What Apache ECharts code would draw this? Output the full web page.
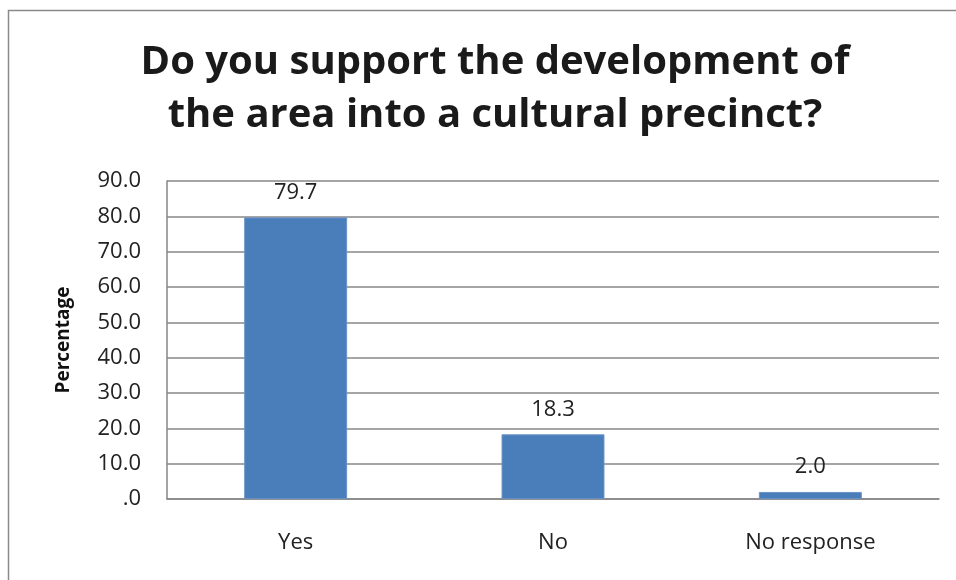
<!DOCTYPE html>
<html>
<head>
<meta charset="utf-8">
<script src="https://cdn.jsdelivr.net/npm/echarts@6/dist/echarts.min.js"></script>
<style>
  html, body { margin: 0; padding: 0; background: #fff; }
  #chart { width: 956px; height: 580px; }
</style>
</head>
<body>
<div id="chart"></div>
<script>
// Survey responses (percent of respondents)
const categories = ['Yes', 'No', 'No response'];
const percentages = [79.7, 18.3, 2.0];
const titleLines = ['Do you support the development of', 'the area into a cultural precinct?'];
const yAxisTitle = 'Percentage';

const FONT = '"Open Sans", "Noto Sans", sans-serif';
const GRID_COLOR = '#878787';

const chart = echarts.init(document.getElementById('chart'), null, { renderer: 'canvas' });

chart.setOption({
  animation: false,
  backgroundColor: '#ffffff',
  graphic: [{
    type: 'rect',
    shape: { x: 8.5, y: 10.5, width: 1000, height: 700 },
    style: { fill: 'none', stroke: '#8a8a8a', lineWidth: 1.5 },
    silent: true
  }],
  title: {
    text: titleLines.join('\n'),
    left: 490,
    textAlign: 'center',
    top: 31,
    textStyle: {
      fontFamily: FONT,
      fontWeight: 'bold',
      fontSize: 40,
      lineHeight: 53,
      color: '#1a1a1a'
    }
  },
  grid: { left: 167, right: 17, top: 181, bottom: 81 },
  xAxis: {
    type: 'category',
    data: categories,
    axisLine: { show: true, lineStyle: { color: GRID_COLOR, width: 1.5 } },
    axisTick: { show: false },
    axisLabel: { fontFamily: FONT, fontSize: 22, color: '#222', margin: 33 }
  },
  yAxis: {
    type: 'value',
    min: 0,
    max: 90,
    interval: 10,
    name: yAxisTitle,
    nameLocation: 'middle',
    nameGap: 94,
    nameTextStyle: { fontFamily: FONT, fontWeight: 'bold', fontSize: 19, color: '#111' },
    axisLine: { show: true, lineStyle: { color: GRID_COLOR, width: 1.5 } },
    axisTick: { show: false },
    axisLabel: {
      fontFamily: FONT, fontSize: 22, color: '#222', margin: 26,
      formatter: v => (v === 0 ? '.0' : v.toFixed(1))
    },
    splitLine: { show: true, lineStyle: { color: GRID_COLOR, width: 1.5 } }
  },
  series: [{
    type: 'bar',
    data: percentages,
    barWidth: '40%',
    itemStyle: { color: '#4a7ebb', borderColor: '#6892c6', borderWidth: 1 },
    label: {
      show: true,
      position: 'top',
      distance: 14,
      fontFamily: FONT,
      fontSize: 22,
      color: '#222',
      formatter: p => p.value.toFixed(1)
    }
  }]
});
</script>
</body>
</html>
